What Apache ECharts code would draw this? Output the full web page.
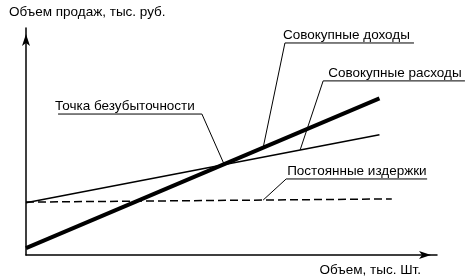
<!DOCTYPE html>
<html>
<head>
<meta charset="utf-8">
<script src="https://cdn.jsdelivr.net/npm/echarts@6/dist/echarts.min.js"></script>
<style>
html,body{margin:0;padding:0;background:#fff;}
#chart{width:471px;height:280px;}
</style>
</head>
<body>
<div id="chart"></div>
<script>
// Data (relative units: volume 0..100, sales 0..100)
var volume = [0, 86];
var revenue = [3, 69];          // Совокупные доходы
var totalCost = [23, 53];       // Совокупные расходы
var fixedVolume = [0, 89];
var fixedCost = [23.3, 24.7];   // Постоянные издержки

var yAxisTitle = 'Объем продаж, тыс. руб.';
var xAxisTitle = 'Объем, тыс. Шт.';

// Annotation callouts: label, underline start/end x, underline y, target x, target series
var noteLabels = ['Точка безубыточности', 'Совокупные доходы', 'Совокупные расходы', 'Постоянные издержки'];
var noteLineX0 = [7.8, 63.0, 72.3, 63.3];
var noteLineX1 = [42.8, 94.4, 106.8, 97.6];
var noteLineY = [62.1, 93.4, 76.7, 33.5];
var noteTextDx = [-3, -2, 5, 1];
var noteTargetX = [48.2, 57.7, 66.7, 57.7];
var noteTargetSeries = ['revenue', 'revenue', 'cost', 'fixed'];

var FONT = '"Liberation Sans", Arial, sans-serif';
var FS = 13.5;

function interp(xs, ys, x) {
  return ys[0] + (ys[1] - ys[0]) * (x - xs[0]) / (xs[1] - xs[0]);
}
function pairs(xs, ys) { return xs.map(function (x, i) { return [x, ys[i]]; }); }

var chart = echarts.init(document.getElementById('chart'), null, {renderer: 'canvas'});
chart.setOption({
  animation: false,
  backgroundColor: '#fff',
  grid: {left: 26, top: 28, width: 411, height: 227, containLabel: false},
  title: {
    text: yAxisTitle, left: 4, top: 0,
    textStyle: {fontFamily: FONT, fontSize: FS, fontWeight: 'normal', color: '#000'}
  },
  xAxis: {
    type: 'value', min: 0, max: 100,
    axisLine: {lineStyle: {color: '#000', width: 1.5}, symbol: ['none', 'arrow'], symbolSize: [6, 12], symbolOffset: [0, -6]},
    axisTick: {show: false}, axisLabel: {show: false}, splitLine: {show: false}
  },
  yAxis: {
    type: 'value', min: 0, max: 100,
    axisLine: {lineStyle: {color: '#000', width: 1.5}, symbol: ['none', 'arrow'], symbolSize: [6, 12], symbolOffset: [0, -6]},
    axisTick: {show: false}, axisLabel: {show: false}, splitLine: {show: false}
  },
  series: [
    {type: 'line', name: 'fixed', data: pairs(fixedVolume, fixedCost), symbol: 'none', clip: false,
     lineStyle: {color: '#000', width: 1.5, type: [8, 4]}},
    {type: 'line', name: 'cost', data: pairs(volume, totalCost), symbol: 'none', clip: false,
     lineStyle: {color: '#000', width: 1.5}},
    {type: 'line', name: 'revenue', data: pairs(volume, revenue), symbol: 'none', clip: false,
     lineStyle: {color: '#000', width: 4}}
  ]
});

var seriesMap = {
  revenue: [volume, revenue],
  cost: [volume, totalCost],
  fixed: [fixedVolume, fixedCost]
};

var graphics = [];
noteLabels.forEach(function (label, i) {
  var s = seriesMap[noteTargetSeries[i]];
  var tx = noteTargetX[i];
  var ty = interp(s[0], s[1], tx);
  var pT = chart.convertToPixel({gridIndex: 0}, [tx, ty]);
  var p0 = chart.convertToPixel({gridIndex: 0}, [noteLineX0[i], noteLineY[i]]);
  var p1 = chart.convertToPixel({gridIndex: 0}, [noteLineX1[i], noteLineY[i]]);
  var pts;
  if (i === 0) pts = [p0, p1, pT];   // leader from right end
  else pts = [p1, p0, pT];           // leader from left end
  graphics.push({
    type: 'polyline', shape: {points: pts}, silent: true,
    style: {stroke: '#000', lineWidth: 1, fill: null}
  });
  graphics.push({
    type: 'text', x: p0[0] + noteTextDx[i], y: p0[1] - 8, silent: true,
    style: {text: label, font: FS + 'px ' + FONT, fill: '#000', textAlign: 'left', textVerticalAlign: 'middle'}
  });
});
graphics.push({
  type: 'text', right: 50, top: 263, silent: true,
  style: {text: xAxisTitle, font: FS + 'px ' + FONT, fill: '#000'}
});
chart.setOption({graphic: graphics});
</script>
</body>
</html>
